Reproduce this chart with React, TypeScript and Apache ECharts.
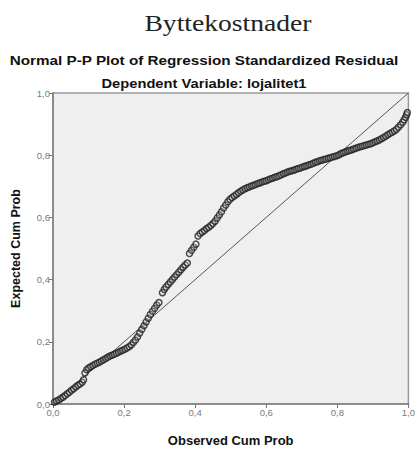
import React, { useEffect, useRef } from "react";
import * as echarts from "echarts";

// Observed cumulative probability (x) vs expected cumulative probability (y)
const observedCumProb = [
  0.004, 0.010, 0.016, 0.022, 0.028, 0.034, 0.040, 0.046, 0.052, 0.058, 0.064, 0.070, 0.076, 0.082, 0.086,
  0.090, 0.095, 0.100, 0.106, 0.112, 0.118, 0.124, 0.130, 0.136, 0.142, 0.148, 0.154, 0.160, 0.166, 0.172,
  0.178, 0.184, 0.190, 0.196, 0.202, 0.208, 0.214, 0.220, 0.226, 0.232, 0.238, 0.244, 0.250, 0.256, 0.262,
  0.268, 0.274, 0.280, 0.286, 0.292, 0.298,
  0.308, 0.313, 0.318, 0.324, 0.330, 0.336, 0.342, 0.348, 0.354, 0.360, 0.366, 0.372, 0.378,
  0.384, 0.390, 0.396, 0.402,
  0.408, 0.414, 0.420, 0.426, 0.432, 0.438, 0.444, 0.450, 0.456, 0.462, 0.468, 0.474, 0.480, 0.486, 0.492,
  0.498, 0.504, 0.510, 0.516, 0.522, 0.528, 0.534, 0.540, 0.546, 0.552, 0.558, 0.564, 0.570, 0.576, 0.582,
  0.588, 0.594, 0.600, 0.606, 0.612, 0.618, 0.624, 0.630, 0.636, 0.642, 0.648, 0.654, 0.660, 0.666, 0.672,
  0.678, 0.684, 0.690, 0.696, 0.702, 0.708, 0.714, 0.720, 0.726, 0.732, 0.738, 0.744, 0.750, 0.756, 0.762,
  0.768, 0.774, 0.780, 0.786, 0.792, 0.798, 0.804, 0.810, 0.816, 0.822, 0.828, 0.834, 0.840, 0.846, 0.852,
  0.858, 0.864, 0.870, 0.876, 0.882, 0.888, 0.894, 0.900, 0.906, 0.912, 0.918, 0.924, 0.930, 0.936, 0.942,
  0.948, 0.954, 0.960, 0.966, 0.972, 0.978, 0.984, 0.988, 0.992, 0.995, 0.997,
];

const expectedCumProb = [
  0.006, 0.010, 0.013, 0.018, 0.022, 0.027, 0.033, 0.038, 0.044, 0.049, 0.055, 0.060, 0.064, 0.070, 0.078,
  0.100, 0.110, 0.116, 0.120, 0.124, 0.128, 0.131, 0.134, 0.138, 0.142, 0.146, 0.150, 0.154, 0.157, 0.160,
  0.163, 0.166, 0.170, 0.173, 0.176, 0.180, 0.184, 0.190, 0.198, 0.206, 0.216, 0.228, 0.240, 0.252, 0.264,
  0.276, 0.288, 0.298, 0.308, 0.318, 0.326,
  0.358, 0.368, 0.376, 0.384, 0.392, 0.400, 0.408, 0.416, 0.424, 0.432, 0.440, 0.447, 0.453,
  0.484, 0.494, 0.504, 0.514,
  0.540, 0.548, 0.553, 0.558, 0.564, 0.568, 0.574, 0.580, 0.588, 0.598, 0.608, 0.618, 0.630, 0.640, 0.650,
  0.658, 0.664, 0.669, 0.674, 0.679, 0.684, 0.688, 0.692, 0.695, 0.698, 0.701, 0.703, 0.706, 0.709, 0.711,
  0.714, 0.716, 0.718, 0.721, 0.724, 0.726, 0.729, 0.731, 0.734, 0.737, 0.740, 0.743, 0.746, 0.748, 0.750,
  0.752, 0.755, 0.757, 0.759, 0.762, 0.764, 0.766, 0.769, 0.771, 0.774, 0.777, 0.779, 0.782, 0.784, 0.786,
  0.788, 0.790, 0.792, 0.794, 0.796, 0.798, 0.801, 0.805, 0.808, 0.810, 0.813, 0.815, 0.817, 0.820, 0.822,
  0.825, 0.827, 0.829, 0.831, 0.833, 0.835, 0.837, 0.840, 0.843, 0.846, 0.849, 0.853, 0.857, 0.861, 0.866,
  0.870, 0.874, 0.878, 0.883, 0.890, 0.898, 0.906, 0.914, 0.922, 0.930, 0.937,
];

// Diagonal reference line endpoints
const referenceLine = [
  [0, 0],
  [1, 1],
];

const axisTicks = [0, 0.2, 0.4, 0.6, 0.8, 1.0];

const fmt = (v: number) => v.toFixed(1).replace(".", ",");

const SANS = "Liberation Sans, Arial, sans-serif";
const SERIF = "Liberation Serif, Times New Roman, serif";

const headingText = (
  text: string,
  x: number,
  y: number,
  font: string,
  scaleX: number,
  fill: string
) => ({
  type: "text",
  x,
  y,
  scaleX,
  silent: true,
  style: {
    text,
    font,
    fill,
    align: "center",
    verticalAlign: "middle",
    textAlign: "center",
    textVerticalAlign: "middle",
  },
});

export default function App() {
  const ref = useRef<HTMLDivElement>(null);

  useEffect(() => {
    if (!ref.current) return;
    const chart = echarts.init(ref.current, undefined, { renderer: "svg" });
    const points = observedCumProb.map((x, i) => [x, expectedCumProb[i]]);

    const axisCommon = {
      type: "value" as const,
      min: axisTicks[0],
      max: axisTicks[axisTicks.length - 1],
      interval: 0.2,
      nameLocation: "middle" as const,
      axisLine: { show: true, lineStyle: { color: "#8c8c8c", width: 2 } },
      axisTick: { show: true, inside: false, length: 4, lineStyle: { color: "#777", width: 1 } },
      axisLabel: {
        formatter: fmt,
        fontFamily: SANS,
        fontSize: 9.5,
        color: "#7a7a7a",
        margin: 3,
      },
      splitLine: { show: false },
    };

    chart.setOption({
      animation: false,
      backgroundColor: "#ffffff",
      graphic: [
        headingText("Byttekostnader", 228, 23, `normal 24px ${SERIF}`, 1.15, "#222"),
        headingText(
          "Normal P-P Plot of Regression Standardized Residual",
          204,
          60,
          `bold 13.5px ${SANS}`,
          1.13,
          "#111"
        ),
        headingText("Dependent Variable: lojalitet1", 204, 83, `bold 13.5px ${SANS}`, 1.09, "#111"),
      ],
      grid: {
        left: 53,
        top: 93,
        width: 356,
        height: 320,
        show: true,
        backgroundColor: "#efefef",
        borderColor: "#9a9a9a",
        borderWidth: 1.5,
      },
      xAxis: {
        ...axisCommon,
        name: "Observed Cum Prob",
        nameGap: 30,
        nameTextStyle: { fontFamily: SANS, fontWeight: "bold", fontSize: 13, color: "#111" },
      },
      yAxis: {
        ...axisCommon,
        name: "Expected Cum Prob",
        nameGap: 31,
        nameTextStyle: { fontFamily: SANS, fontWeight: "bold", fontSize: 12.5, color: "#111" },
      },
      series: [
        {
          type: "line",
          data: referenceLine,
          symbol: "none",
          lineStyle: { color: "#555", width: 1 },
          silent: true,
          z: 1,
        },
        {
          type: "scatter",
          data: points,
          symbol: "circle",
          symbolSize: 6,
          itemStyle: { color: "rgba(239,239,239,0.3)", borderColor: "#222", borderWidth: 1.5 },
          z: 2,
        },
      ],
    });

    return () => chart.dispose();
  }, []);

  return (
    <div
      ref={ref}
      style={{ position: "fixed", left: 0, top: 0, width: 418, height: 452 }}
    />
  );
}
